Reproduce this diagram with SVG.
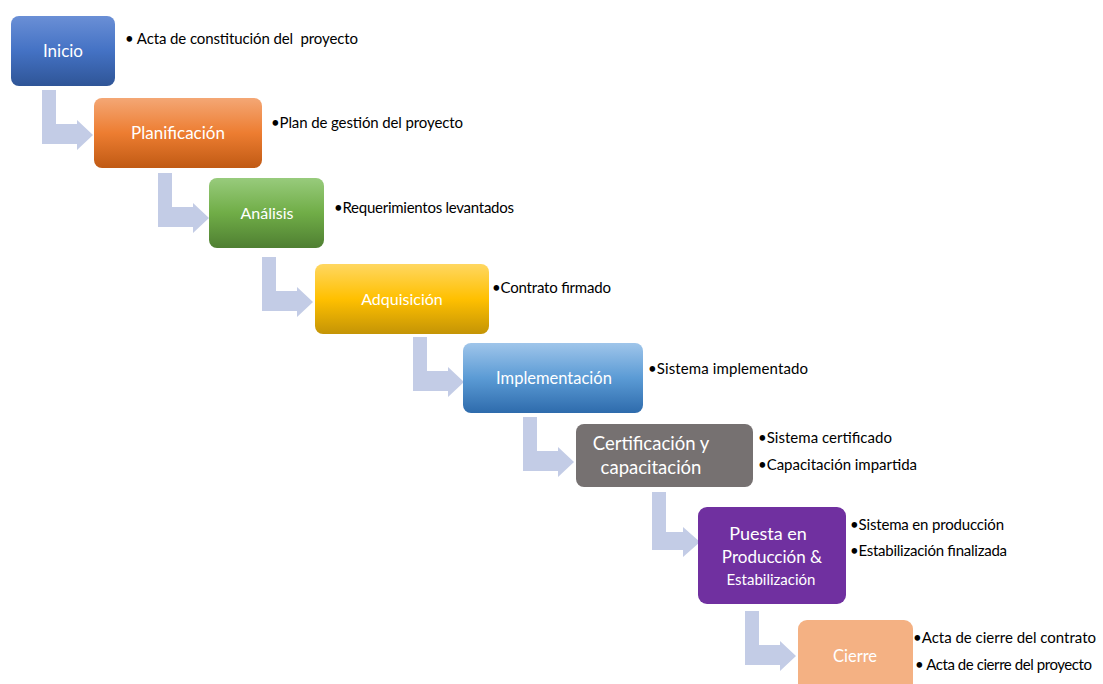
<svg xmlns="http://www.w3.org/2000/svg" xmlns:xlink="http://www.w3.org/1999/xlink" width="1103" height="684" viewBox="0 0 1103 684">
  <style>
    .label { font-family: Lato, "Liberation Sans", sans-serif; font-size: 17px; fill: #ffffff; text-anchor: middle; }
    .note { font-family: Lato, "Liberation Sans", sans-serif; font-size: 15px; fill: #000000; }
    .bent { fill: #c3cce6; }
  </style>
  <defs>
    <linearGradient id="gBlue" x1="0" y1="0" x2="0" y2="1">
      <stop offset="0" stop-color="#6a8fd6"/>
      <stop offset="0.5" stop-color="#4472c4"/>
      <stop offset="1" stop-color="#2f5597"/>
    </linearGradient>
    <linearGradient id="gOrange" x1="0" y1="0" x2="0" y2="1">
      <stop offset="0" stop-color="#f4a775"/>
      <stop offset="0.5" stop-color="#ed7d31"/>
      <stop offset="1" stop-color="#c05a14"/>
    </linearGradient>
    <linearGradient id="gGreen" x1="0" y1="0" x2="0" y2="1">
      <stop offset="0" stop-color="#98cb7c"/>
      <stop offset="0.5" stop-color="#70ad47"/>
      <stop offset="1" stop-color="#4f7f32"/>
    </linearGradient>
    <linearGradient id="gGold" x1="0" y1="0" x2="0" y2="1">
      <stop offset="0" stop-color="#ffd761"/>
      <stop offset="0.5" stop-color="#ffc000"/>
      <stop offset="1" stop-color="#c49406"/>
    </linearGradient>
    <linearGradient id="gSky" x1="0" y1="0" x2="0" y2="1">
      <stop offset="0" stop-color="#9fc5ea"/>
      <stop offset="0.5" stop-color="#5b9bd5"/>
      <stop offset="1" stop-color="#2e6bac"/>
    </linearGradient>
    <path id="bent" d="M0 0 H14 V34 H35 V30 L51 45 L35 60 V54 H0 Z"/>
  </defs>

  <!-- bent-up connectors between consecutive phases -->
  <g id="connectors" class="bent">
    <use xlink:href="#bent" x="42" y="90"/>
    <use xlink:href="#bent" x="158" y="173"/>
    <use xlink:href="#bent" x="262" y="257"/>
    <use xlink:href="#bent" x="413" y="337"/>
    <use xlink:href="#bent" x="523" y="417"/>
    <path d="M652 492 H666 V532 H683 V527 L700 542 L683 557 V550 H652 Z"/>
    <use xlink:href="#bent" x="745" y="611"/>
  </g>

  <g id="inicio">
    <rect x="11" y="16" width="104" height="70" rx="8" fill="url(#gBlue)"/>
    <text class="label" x="63" y="57">Inicio</text>
    <text class="note" x="125" y="44" xml:space="preserve" textLength="233">• Acta de constitución del  proyecto</text>
  </g>

  <g id="planificacion">
    <rect x="94" y="98" width="168" height="70" rx="8" fill="url(#gOrange)"/>
    <text class="label" x="178" y="139">Planificación</text>
    <text class="note" x="271" y="128" textLength="192">•Plan de gestión del proyecto</text>
  </g>

  <g id="analisis">
    <rect x="209" y="178" width="115" height="70" rx="8" fill="url(#gGreen)"/>
    <text class="label" x="267" y="219" style="font-size:16px">Análisis</text>
    <text class="note" x="334" y="213" textLength="180">•Requerimientos levantados</text>
  </g>

  <g id="adquisicion">
    <rect x="315" y="264" width="174" height="70" rx="8" fill="url(#gGold)"/>
    <text class="label" x="402" y="305" style="font-size:16px">Adquisición</text>
    <text class="note" x="492" y="293" textLength="119">•Contrato firmado</text>
  </g>

  <g id="implementacion">
    <rect x="463" y="343" width="180" height="70" rx="8" fill="url(#gSky)"/>
    <text class="label" x="554" y="384" style="font-size:16.5px">Implementación</text>
    <text class="note" x="648" y="374" textLength="160">•Sistema implementado</text>
  </g>

  <g id="certificacion">
    <rect x="576" y="424" width="177" height="63" rx="8" fill="#767171"/>
    <text class="label" x="651" y="450" style="font-size:18.5px">Certificación y</text>
    <text class="label" x="651" y="474" style="font-size:18.5px">capacitación</text>
    <text class="note" x="758" y="443" textLength="134">•Sistema certificado</text>
    <text class="note" x="758" y="470" textLength="159">•Capacitación impartida</text>
  </g>

  <g id="puesta">
    <rect x="698" y="507" width="148" height="97" rx="9" fill="#7030a0"/>
    <text class="label" x="768" y="540" style="font-size:18px">Puesta en</text>
    <text class="label" x="772" y="563">Producción &amp;</text>
    <text class="label" x="771" y="585" style="font-size:15px">Estabilización</text>
    <text class="note" x="850" y="530" textLength="154">•Sistema en producción</text>
    <text class="note" x="850" y="556" textLength="157">•Estabilización finalizada</text>
  </g>

  <g id="cierre">
    <rect x="798" y="620" width="115" height="80" rx="9" fill="#f4b183"/>
    <text class="label" x="855" y="662" style="font-size:16.5px">Cierre</text>
    <text class="note" x="913" y="643" textLength="183">•Acta de cierre del contrato</text>
    <text class="note" x="915" y="670" textLength="177">• Acta de cierre del proyecto</text>
  </g>
</svg>
